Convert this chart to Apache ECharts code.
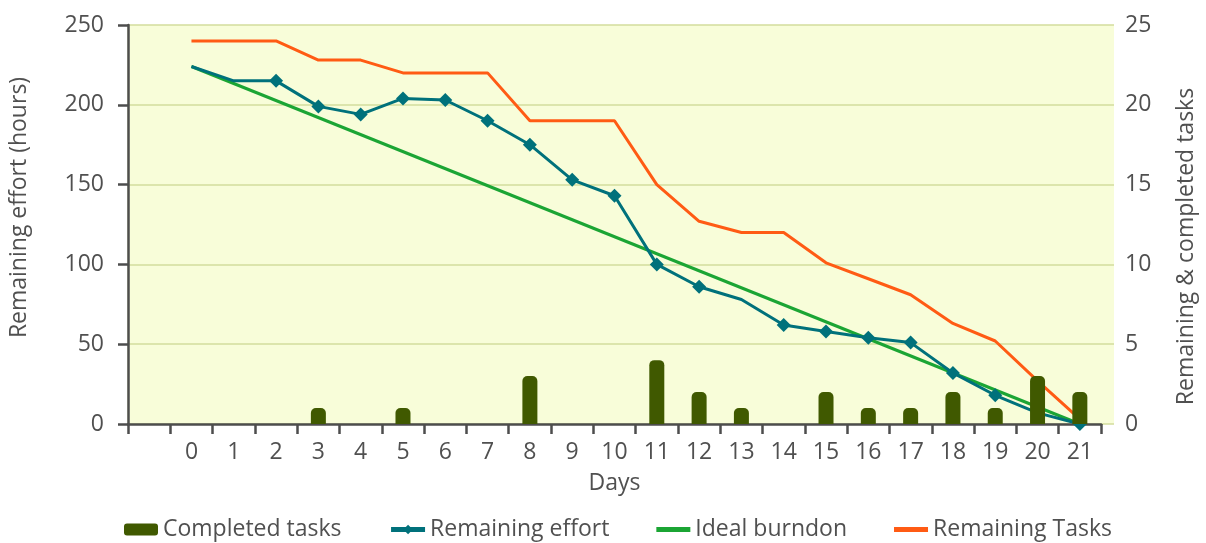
<!DOCTYPE html>
<html>
<head>
<meta charset="utf-8">
<script src="https://cdn.jsdelivr.net/npm/echarts@6/dist/echarts.min.js"></script>
<style>
  html, body { margin: 0; padding: 0; background: #fff; }
  #burndown { width: 1206px; height: 543px; }
</style>
</head>
<body>
<div id="burndown"></div>
<script>
// days on the x axis (one blank slot before day 0)
var days = ['0','1','2','3','4','5','6','7','8','9','10','11','12','13','14','15','16','17','18','19','20','21'];

// remaining effort in hours (left axis)
var remainingEffort = [224, 215, 215, 199, 194, 204, 203, 190, 175, 153, 143, 100, 86, 78, 62, 58, 54, 51, 32, 18, 7, 0];
// days where the effort point has no marker
var effortNoMarker = [0, 1, 13];

// ideal burndown, straight from start to end (left axis)
var idealBurndown = [224, null, null, null, null, null, null, null, null, null, null, null, null, null, null, null, null, null, null, null, null, 0];

// remaining tasks (right axis)
var remainingTasks = [24, 24, 24, 22.8, 22.8, 22, 22, 22, 19, 19, 19, 15, 12.7, 12, 12, 10.1, 9.1, 8.1, 6.3, 5.2, 2.7, 0.3];

// tasks completed each day (right axis)
var completedTasks = [null, null, null, 1, null, 1, null, null, 3, null, null, 4, 2, 1, null, 2, 1, 1, 2, 1, 3, 2];

var textColor = '#505050';
var axisColor = '#4d4d4d';
var fontFam = '"Open Sans", sans-serif';
var fs = 23;
var lineIcon = 'path://M0,0H34V5H0Z';

function withBlank(arr) {
	return [null].concat(arr);
}

var chart = echarts.init(document.getElementById('burndown'));

var effortData = remainingEffort.map(function (v, i) {
	if (effortNoMarker.indexOf(i) !== -1) {
		return { value: v, symbol: 'none' };
	}
	return v;
});

var option = {
	animation: false,
	textStyle: { fontFamily: fontFam, color: textColor },
	grid: [
		{
			// plot area background, a little wider than the day axis
			left: 127,
			right: 92,
			top: 25,
			bottom: 119,
			show: true,
			backgroundColor: '#f8fdd9',
			borderWidth: 0
		},
		{
			left: 127,
			right: 102,
			top: 25,
			bottom: 119,
			show: false
		}
	],
	legend: {
		top: 513,
		left: 119,
		itemGap: 47,
		itemWidth: 34,
		itemHeight: 12,
		itemTextGap: 10,
		textStyle: { fontSize: fs, color: textColor, fontFamily: fontFam },
		data: [
			{ name: 'Completed tasks', icon: 'roundRect' },
			{ name: 'Remaining effort', lineStyle: { width: 5 } },
			{ name: 'Ideal burndon', icon: lineIcon },
			{ name: 'Remaining Tasks', icon: lineIcon }
		]
	},
	xAxis: [
		{
			type: 'value',
			gridIndex: 0,
			show: false,
			min: 0,
			max: 1
		},
		{
			type: 'category',
			gridIndex: 1,
			data: [''].concat(days),
			boundaryGap: true,
			name: 'Days',
			nameLocation: 'middle',
			nameGap: 48,
			nameTextStyle: { fontSize: fs, color: textColor },
			axisLine: { lineStyle: { color: axisColor, width: 2.5 } },
			axisTick: { show: true, length: 10, alignWithLabel: false, lineStyle: { color: axisColor, width: 2.5 } },
			axisLabel: { fontSize: fs, color: textColor, margin: 17, interval: 0 },
			splitLine: { show: false },
			z: 3
		}
	],
	yAxis: [
		{
			type: 'value',
			gridIndex: 0,
			min: 0,
			max: 250,
			interval: 50,
			axisLine: { show: false },
			axisTick: { show: false },
			axisLabel: { show: false },
			splitLine: { show: true, lineStyle: { color: '#d3dd9c', width: 1.5 } }
		},
		{
			type: 'value',
			gridIndex: 1,
			min: 0,
			max: 250,
			interval: 50,
			name: 'Remaining effort (hours)',
			nameLocation: 'middle',
			nameGap: 97,
			nameTextStyle: { fontSize: fs, color: textColor, padding: [0, 0, 0, 34] },
			axisLine: { show: true, lineStyle: { color: axisColor, width: 2.5 } },
			axisTick: { show: true, length: 10, lineStyle: { color: axisColor, width: 2.5 } },
			axisLabel: { fontSize: fs, color: textColor, margin: 24 },
			splitLine: { show: false },
			z: 3
		},
		{
			type: 'value',
			gridIndex: 1,
			position: 'right',
			min: 0,
			max: 25,
			interval: 5,
			name: 'Remaining & completed tasks',
			nameLocation: 'middle',
			nameGap: 74,
			nameTextStyle: { fontSize: fs, color: textColor, padding: [0, 44, 0, 0] },
			axisLine: { show: false },
			axisTick: { show: false },
			axisLabel: { fontSize: fs, color: textColor, margin: 24 },
			splitLine: { show: false }
		}
	],
	series: [
		{
			name: 'Completed tasks',
			type: 'bar',
			xAxisIndex: 1,
			yAxisIndex: 2,
			barWidth: 15,
			itemStyle: { color: '#405900', borderRadius: [5, 5, 0, 0] },
			data: withBlank(completedTasks),
			z: 5
		},
		{
			name: 'Remaining effort',
			type: 'line',
			xAxisIndex: 1,
			yAxisIndex: 1,
			symbol: 'diamond',
			symbolSize: 14,
			showAllSymbol: true,
			lineStyle: { color: '#00717b', width: 3 },
			itemStyle: { color: '#00717b' },
			data: withBlank(effortData),
			z: 3
		},
		{
			name: 'Ideal burndon',
			type: 'line',
			xAxisIndex: 1,
			yAxisIndex: 1,
			symbol: 'none',
			connectNulls: true,
			lineStyle: { color: '#1ba534', width: 3 },
			itemStyle: { color: '#1ba534' },
			data: withBlank(idealBurndown),
			z: 2
		},
		{
			name: 'Remaining Tasks',
			type: 'line',
			xAxisIndex: 1,
			yAxisIndex: 2,
			symbol: 'none',
			lineStyle: { color: '#ff5b14', width: 3 },
			itemStyle: { color: '#ff5b14' },
			data: withBlank(remainingTasks),
			z: 2
		}
	]
};

chart.setOption(option);
</script>
</body>
</html>
